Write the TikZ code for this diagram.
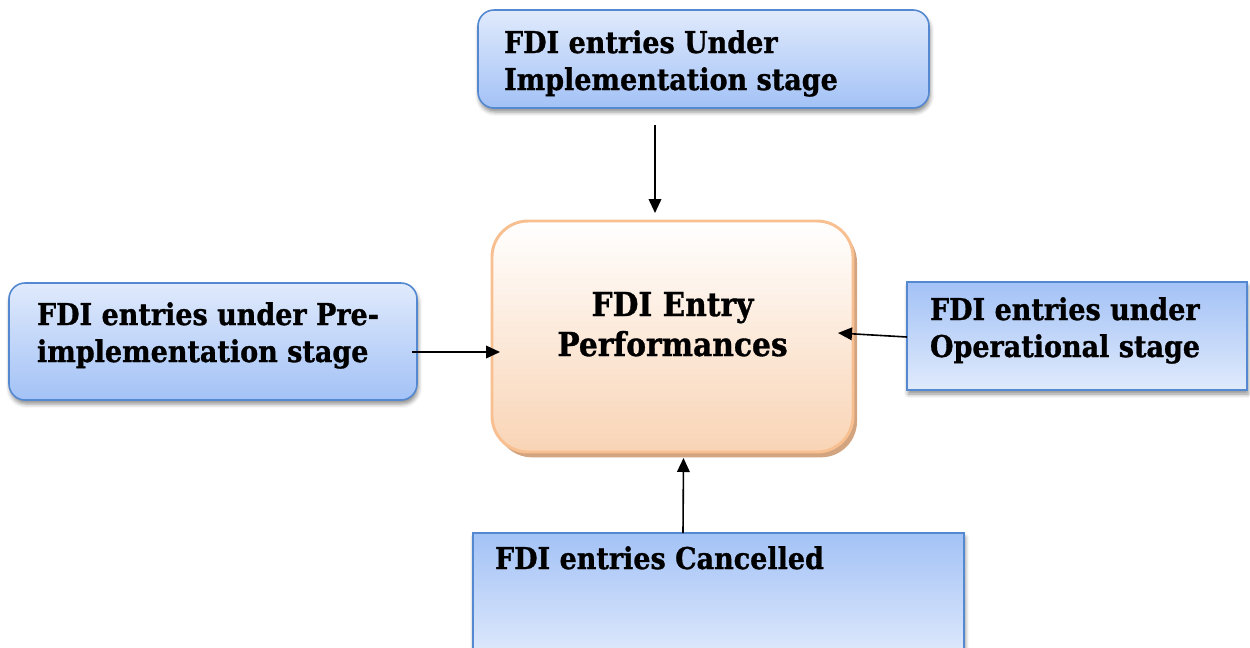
\documentclass[tikz,border=0pt]{standalone}
\usepackage{fontspec}
\setmainfont{DejaVu Serif}[FakeStretch=0.9, BoldFeatures={FakeBold=1}]
\usetikzlibrary{calc,arrows.meta,shadows,shadows.blur}

% one pixel of the drawing grid
\newdimen\pxu \pxu=0.75pt

% box contents: [#1 size], #2 width, #3 height, #4 left pad,
% #5 first baseline from top, #6 alignment command, #7 text
\newcommand\boxtext[7][\fontsize{30\pxu}{37\pxu}\selectfont]{%
  \begin{minipage}[c][#3\pxu][t]{#2\pxu}%
    #1\bfseries
    #6\advance\leftskip by #4\pxu
    \leavevmode\rule{0pt}{#5\pxu}#7%
  \end{minipage}}

\definecolor{blueedge}{RGB}{84,136,208}
\definecolor{bluelight}{RGB}{224,234,252}
\definecolor{bluedark}{RGB}{163,194,246}
\definecolor{peachedge}{RGB}{248,192,145}
\definecolor{peachfill}{RGB}{249,212,181}
\definecolor{peachshadow}{RGB}{210,164,128}

\tikzset{
  panel/.style={inner sep=0pt, outer sep=0pt, draw=blueedge, line width=1.2pt,
    blur shadow={shadow xshift=0.8pt, shadow yshift=-3pt, shadow blur radius=3pt, shadow opacity=45}},
  litetop/.style={top color=bluelight, bottom color=bluedark},
  darktop/.style={top color=bluedark, bottom color=bluelight},
  corebox/.style={inner sep=0pt, outer sep=0pt, draw=peachedge, line width=2.2pt,
    rounded corners=27pt, top color=white, bottom color=peachfill,
    general shadow={fill=peachshadow, shadow xshift=3pt, shadow yshift=-4pt}},
  feed/.style={line width=1.2pt, -{Triangle[length=10.5pt,width=9.5pt]}}
}

\begin{document}
\begin{tikzpicture}[x=\pxu, y=-\pxu]
\useasboundingbox (0,0) rectangle (1250,647);

% central box
\node[corebox] (core) at (672.5,336.5)
  {\boxtext[\fontsize{33\pxu}{40\pxu}\selectfont]{361}{231}{0}{95}{\centering}{FDI Entry\\Performances}};

% surrounding stages
\node[panel, litetop, rounded corners=12pt] (impl) at (703.5,59)
  {\boxtext{451}{98}{26}{43}{\raggedright}{FDI entries Under\\Implementation stage}};
\node[panel, litetop, rounded corners=12pt] (pre) at (213,341.5)
  {\boxtext{408}{117}{28}{42}{\raggedright}{FDI entries under Pre-\\implementation stage}};
\node[panel, darktop] (oper) at (1077,336)
  {\boxtext{340}{108}{23}{38}{\raggedright}{FDI entries under\\Operational stage}};
\node[panel, darktop] (canc) at (718.5,596.5)
  {\boxtext{491}{127}{22}{36}{\raggedright}{FDI entries Cancelled}};

% flows into the central box
\draw[feed] ($(impl.south)+(-48.5,17)$) -- ($(core.north)+(-17.5,-8)$);
\draw[feed] ($(pre.east)+(-5,10.5)$) -- ($(core.west)+(8,15.5)$);
\draw[feed] ($(oper.west)+(0,1)$) -- ($(core.east)+(-15,-3.5)$);
\draw[feed] ($(canc.north)+(-35.5,0)$) -- ($(core.south)+(11,6)$);
\end{tikzpicture}
\end{document}
